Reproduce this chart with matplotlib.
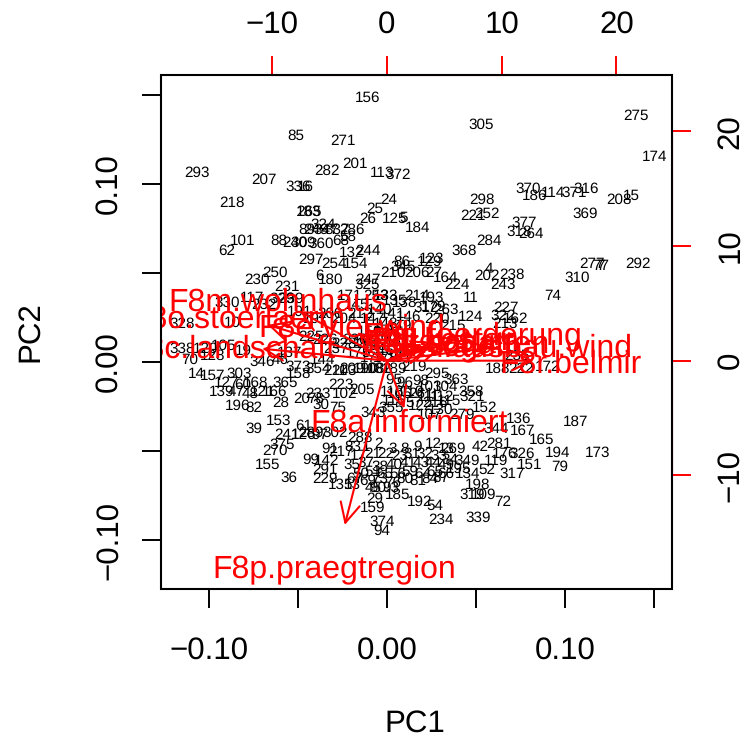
import matplotlib
matplotlib.use("Agg")
import matplotlib.pyplot as plt
from matplotlib.patches import Rectangle

plt.rcParams['font.family'] = ['Liberation Sans', 'DejaVu Sans']
plt.rcParams['text.hinting'] = 'none'

point_ids = [
    156, 85, 271, 293, 201, 282, 207, 336, 16, 113,
    372, 218, 24, 25, 26, 125, 5, 184, 265, 183,
    101, 62, 88, 240, 309, 360, 68, 324, 89, 249,
    347, 337, 286, 58, 297, 254, 154, 132, 244, 250,
    230, 231, 6, 180, 247, 325, 210, 86, 345, 123,
    129, 206, 27, 164, 224, 368, 284, 305, 275, 174,
    370, 186, 114, 371, 316, 208, 15, 298, 221, 252,
    369, 377, 318, 264, 277, 77, 7, 292, 310, 4,
    202, 238, 243, 74, 11, 227, 322, 162, 213, 124,
    263, 215, 214, 193, 312, 179, 220, 330, 253, 171,
    145, 328, 10, 117, 329, 239, 232, 338, 70, 120,
    128, 105, 19, 346, 46, 137, 373, 144, 158, 354,
    211, 209, 108, 14, 157, 303, 127, 60, 168, 365,
    139, 47, 48, 121, 166, 196, 82, 28, 153, 39,
    233, 102, 20, 78, 75, 30, 223, 205, 203, 190,
    355, 343, 219, 295, 363, 358, 321, 152, 261, 57,
    216, 136, 187, 188, 222, 172, 235, 107, 279, 167,
    165, 344, 194, 173, 79, 151, 317, 326, 176, 269,
    42, 281, 349, 119, 52, 195, 134, 198, 319, 109,
    72, 339, 234, 54, 192, 185, 29, 159, 374, 94,
    241, 375, 270, 155, 36, 99, 229, 142, 291, 131,
    53, 45, 91, 217, 83, 61, 126, 289, 97, 302,
    288, 1, 2, 3, 8, 9, 12, 13, 17, 21,
    22, 23, 31, 32, 33, 34, 35, 37, 38, 40,
    41, 43, 44, 49, 50, 51, 55, 56, 59, 64,
    65, 66, 67, 69, 73, 76, 80, 81, 84, 87,
    90, 93, 95, 96, 98, 103, 104, 106, 110, 111,
    112, 115, 116, 118, 122, 130, 133, 135, 138, 140,
    141, 146, 147, 148, 149, 150, 160, 161, 163, 169,
    170, 175, 177, 178, 181, 182, 189, 191, 197, 200,
    204, 212, 225, 226, 228, 236, 237, 242,
]
pc1 = [
    -.011, -.051, -.025, -.107, -.018, -.034, -.069, -.050, -.046, -.003,
    .006, -.087, .001, -.007, -.011, .004, .009, .017, -.044, -.044,
    -.081, -.090, -.061, -.052, -.047, -.037, -.026, -.036, -.045, -.040,
    -.034, -.028, -.020, -.022, -.043, -.030, -.018, -.020, -.011, -.063,
    -.073, -.056, -.038, -.032, -.011, -.011, .003, .008, .009, .025,
    .024, .017, .026, .033, .039, .043, .057, .053, .140, .150,
    .079, .083, .093, .105, .112, .130, .137, .053, .048, .056,
    .111, .077, .074, .081, .115, .120, .120, .141, .107, .057,
    .056, .070, .065, .093, .047, .067, .065, .072, .066, .047,
    .033, .037, .017, .025, .022, .026, .028, -.090, -.006, -.021,
    -.017, -.115, -.087, -.076, -.059, -.054, -.069, -.115, -.111, -.102,
    -.098, -.092, -.081, -.070, -.060, -.055, -.050, -.036, -.050, -.039,
    -.029, -.020, -.008, -.107, -.098, -.083, -.090, -.081, -.074, -.057,
    -.093, -.085, -.077, -.070, -.063, -.084, -.075, -.060, -.061, -.075,
    -.039, -.024, -.048, -.040, -.028, -.037, -.026, -.014, -.024, -.012,
    .002, -.008, .015, .028, .039, .047, .048, .055, .019, .015,
    .027, .074, .106, .062, .075, .090, .073, .024, .042, .076,
    .087, .061, .096, .118, .097, .080, .070, .076, .066, .037,
    .052, .063, .045, .061, .056, .040, .045, .051, .048, .054,
    .065, .051, .030, .027, .018, .006, -.007, -.008, -.003, -.003,
    -.056, -.059, -.063, -.067, -.055, -.043, -.035, -.034, -.035, -.026,
    -.020, -.008, -.032, -.026, -.019, -.047, -.047, -.043, -.038, -.029,
    -.015, -.012, -.005, .003, .010, .017, .026, .033, -.016, -.008,
    -.001, .007, .014, .021, .029, .035, -.020, -.012, -.004, .004,
    .012, .019, .026, .033, -.015, -.008, -.001, .006, .013, .020,
    .027, .033, -.018, -.011, -.004, .003, .010, .017, .024, .030,
    -.005, .002, .004, .010, .019, .024, .033, .007, .014, .023,
    .031, .035, .004, .003, .019, .030, -.001, .004, .010, -.004,
    .003, .012, -.008, -.001, .007, -.010, -.001, .006, -.007, .002,
    -.012, -.016, -.008, -.001, .007, -.004, .004, -.049, -.040, -.032,
    -.024, -.015, -.043, -.035, -.024, -.018, -.029, -.010,
]
pc2 = [
    .149, .128, .125, .107, .112, .108, .103, .099, .099, .107,
    .106, .090, .092, .087, .081, .081, .082, .076, .085, .085,
    .069, .063, .069, .068, .068, .067, .069, .078, .075, .075,
    .075, .075, .075, .071, .058, .056, .056, .062, .063, .051,
    .047, .043, .049, .047, .047, .044, .051, .057, .054, .059,
    .057, .051, .051, .048, .044, .063, .069, .134, .139, .116,
    .098, .094, .096, .096, .098, .092, .094, .092, .083, .084,
    .084, .079, .074, .073, .056, .055, .055, .056, .048, .053,
    .049, .050, .044, .038, .037, .031, .027, .025, .022, .026,
    .030, .021, .038, .037, .031, .032, .025, .034, .038, .038,
    .033, .022, .023, .037, .036, .036, .033, .008, .002, .008,
    .004, .010, .007, .001, .002, .006, -.002, .002, -.006, -.003,
    -.004, -.003, -.003, -.006, -.007, -.006, -.011, -.012, -.011, -.011,
    -.016, -.016, -.017, -.016, -.016, -.024, -.025, -.022, -.032, -.037,
    -.017, -.017, -.020, -.020, -.025, -.023, -.012, -.015, -.004, -.003,
    -.025, -.028, -.002, -.006, -.009, -.016, -.019, -.025, -.017, -.022,
    -.022, -.031, -.033, -.003, -.003, -.002, .004, -.029, -.029, -.038,
    -.043, -.037, -.050, -.050, -.058, -.057, -.062, -.051, -.051, -.048,
    -.047, -.045, -.055, -.055, -.060, -.059, -.062, -.068, -.074, -.074,
    -.078, -.087, -.088, -.080, -.078, -.074, -.076, -.081, -.089, -.094,
    -.040, -.046, -.049, -.057, -.064, -.054, -.065, -.055, -.060, -.068,
    -.068, -.070, -.048, -.050, -.047, -.035, -.040, -.039, -.040, -.039,
    -.042, -.047, -.045, -.048, -.048, -.047, -.045, -.048, -.052, -.051,
    -.051, -.052, -.051, -.051, -.052, -.054, -.057, -.056, -.058, -.057,
    -.056, -.056, -.056, -.057, -.062, -.061, -.062, -.062, -.061, -.062,
    -.061, -.062, -.065, -.066, -.065, -.067, -.065, -.066, -.065, -.064,
    -.070, -.070, -.009, -.011, -.010, -.013, -.013, -.017, -.016, -.019,
    -.019, -.021, -.021, -.016, -.024, -.026, .038, .035, .034, .030,
    .028, .026, .025, .022, .021, .018, .015, .012, .010, .007,
    .012, .006, .003, .003, .003, -.003, -.003, .029, .025, .028,
    .025, .028, .015, .013, .011, .013, .008, .011,
]

# variable names and loadings on the top/right scale
var_names = [
    "F8a.informiert", "F8c.landschaft", "F8e.viel.wind", "F8g.foerderung",
    "F8h.natur", "F8i.vogel", "F8j.kosten", "F8k.schatten",
    "F8l.ausbau.wind", "F8m.wohnhaus", "F8o.stoerlaerm",
    "F8p.praegtregion", "F8r.belmir",
]
load1 = [1.9, -13.6, -3.1, 7.5, 3.8, 4.5, 5.1, 6.2, 11.2, -9.5, -13.0, -4.6, 16.0]
load2 = [-5.2, 1.3, 3.1, 2.4, 1.8, 1.5, 2.0, 1.7, 1.4, 5.4, 3.9, -17.9, 0.0]

ticks_main = [-0.10, -0.05, 0.0, 0.05, 0.10, 0.15]
ticklabels_main = ["\u22120.10", "", "0.00", "", "0.10", ""]
ticks_top = [-10, 0, 10, 20]
ticklabels_top = ["\u221210", "0", "10", "20"]

W, H = 742, 736
fig = plt.figure(figsize=(W / 100, H / 100), dpi=100)
pos = [161 / W, (H - 589) / H, (672 - 161) / W, (589 - 75) / H]

ax = fig.add_axes(pos)
ax.set_xlim(-0.127, 0.160)
ax.set_ylim(-0.1275, 0.1612)
for s in ax.spines.values():
    s.set_visible(False)
ax.set_xticks(ticks_main)
ax.set_xticklabels(ticklabels_main)
ax.set_yticks(ticks_main)
ax.set_yticklabels(ticklabels_main, rotation=90, va="center")
ax.tick_params(axis="x", length=13.7, width=1.4, labelsize=22.5, pad=20.5)
ax.tick_params(axis="y", length=13.7, width=1.4, labelsize=22.5, pad=13.5)

for name, x, y in zip(point_ids, pc1, pc2):
    ax.text(x, y, str(name), fontsize=11, ha="center", va="center_baseline",
            color="black", clip_on=True)

ax2 = fig.add_axes(pos, facecolor="none")
ax2.set_xlim(-19.7, 24.85)
ax2.set_ylim(-19.9, 24.9)
ax2.xaxis.tick_top()
ax2.yaxis.tick_right()
ax2.set_xticks(ticks_top)
ax2.set_xticklabels(ticklabels_top)
ax2.set_yticks(ticks_top)
ax2.set_yticklabels(ticklabels_top, rotation=90, va="center")
ax2.tick_params(axis="both", length=13.7, width=1.4, color="red", labelsize=22.5)
ax2.tick_params(axis="x", pad=12)
ax2.tick_params(axis="y", pad=18)
ax2.spines["left"].set_visible(False)
ax2.spines["bottom"].set_visible(False)
ax2.spines["top"].set_bounds(-10, 20)
ax2.spines["right"].set_bounds(-10, 20)
ax2.spines["top"].set_color("red")
ax2.spines["right"].set_color("red")

# arrows stop at 0.8 of the loading, like biplot() does
for x, y in zip(load1, load2):
    ax2.annotate("", xy=(0.8 * x, 0.8 * y), xytext=(0, 0),
                 arrowprops=dict(arrowstyle="->,head_length=1,head_width=0.5",
                                 mutation_scale=14, color="red", lw=1.5,
                                 shrinkA=0, shrinkB=0))
for name, x, y in zip(var_names, load1, load2):
    ax2.text(x, y, name, color="red", fontsize=23, ha="center",
             va="center_baseline", clip_on=True)

ax2.add_patch(Rectangle((0, 0), 1, 1, transform=ax2.transAxes, fill=False,
                        edgecolor="black", lw=1.5, clip_on=False, zorder=10))

fig.text(415 / W, 1 - 724 / H, "PC1", fontsize=22.5, ha="center", va="center")
fig.text(30 / W, 1 - 332 / H, "PC2", fontsize=22.5, ha="center", va="center",
         rotation=90)

fig.savefig("out.png", dpi=100)
